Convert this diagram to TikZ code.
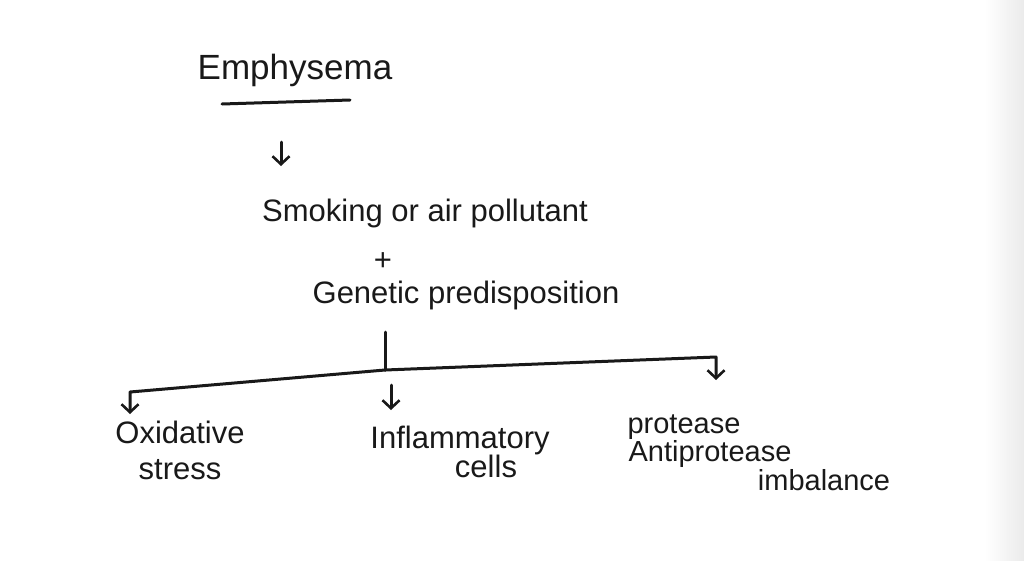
\documentclass[tikz,border=0pt]{standalone}
\usepackage{fontspec}
\setmainfont{Liberation Sans}
\usetikzlibrary{arrows.meta}
\begin{document}
\begin{tikzpicture}[x=1pt,y=-1pt,
  ink/.style={draw=black!90, line width=3pt, line cap=round, line join=round},
  arr/.style={ink, -{Straight Barb[length=8pt,width=17pt,line width=2.6pt]}},
  lbl/.style={font=\fontsize{31}{36}\selectfont, inner sep=0pt, text=black!90},
  sml/.style={font=\fontsize{29}{34}\selectfont, inner sep=0pt, text=black!90, anchor=base},
  ttl/.style={font=\fontsize{35}{40}\selectfont, inner sep=0pt, text=black!90}]
\useasboundingbox (0,0) rectangle (1024,560);
\fill[white] (0,0) rectangle (1024,560);
\shade[left color=white, right color=black!8] (985,0) rectangle (1024,560);

\node[ttl] (title) at (295,70) {Emphysema};
\coordinate (ulA) at (222,104);
\coordinate (ulB) at (350,100);
\draw[ink] (ulA) -- (ulB);

\coordinate (a1s) at (281,142);
\coordinate (a1e) at (281,166);
\draw[arr] (a1s) -- (a1e);

\node[lbl] (smoke) at (425,213) {Smoking or air pollutant};
\node[lbl] (plus) at (383,262) {+};
\node[lbl] (gen) at (466,295) {Genetic predisposition};

\coordinate (stemTop) at (385,332);
\coordinate (hub) at (385,370);
\coordinate (leftEnd) at (130,392);
\coordinate (leftTip) at (130,414);
\coordinate (rightEnd) at (716,357);
\coordinate (rightTip) at (716,380);
\coordinate (midS) at (391,385);
\coordinate (midE) at (391,410);

\draw[ink] (stemTop) -- (hub);
\draw[arr] (hub) -- (leftEnd) -- (leftTip);
\draw[arr] (hub) -- (rightEnd) -- (rightTip);
\draw[arr] (midS) -- (midE);

\node[lbl, align=center] (ox) at (180,450) {Oxidative\\stress};
\node[lbl] (inf) at (460,440) {Inflammatory};
\node[lbl] (cells) at (486,466) {cells};
\node[sml] (prot) at (684,433) {protease};
\node[sml] (anti) at (710,461) {Antiprotease};
\node[sml] (imb) at (824,490) {imbalance};
\end{tikzpicture}
\end{document}
